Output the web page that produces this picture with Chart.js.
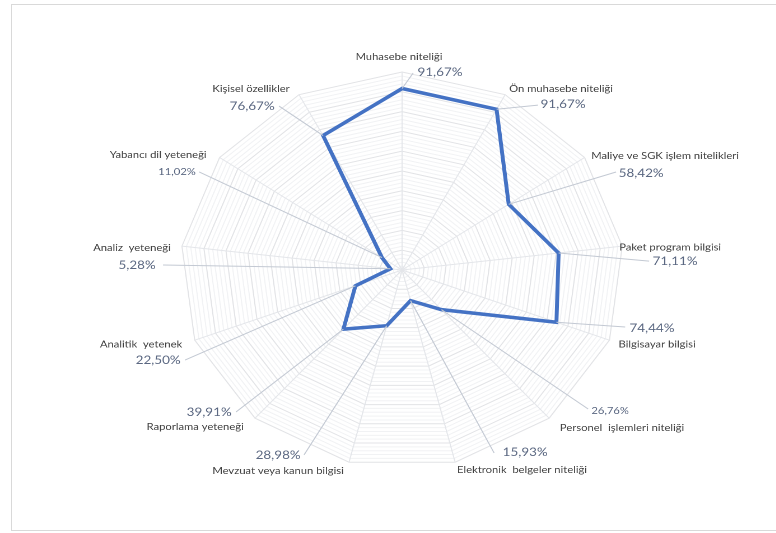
<!DOCTYPE html>
<html><head><meta charset="utf-8">
<script src="https://cdn.jsdelivr.net/npm/chart.js@4/dist/chart.umd.min.js"></script>
<style>
html,body{margin:0;padding:0;background:#fff;overflow:hidden;width:776px;height:533px;}
#frame{position:absolute;left:11px;top:4px;width:800px;height:527px;border:1px solid #d9d9d9;box-sizing:border-box;}
#wrap{position:absolute;left:0;top:0;width:700px;height:533px;transform:scaleX(1.12);transform-origin:0 0;}
canvas{display:block;}
</style></head><body>
<div id="frame"></div>
<div id="wrap"><canvas id="c" width="700" height="533" style="width:700px;height:533px"></canvas></div>
<script>
const CATEGORIES = [
  "Muhasebe niteliği",
  "Ön muhasebe niteliği",
  "Maliye ve SGK işlem nitelikleri",
  "Paket program bilgisi",
  "Bilgisayar bilgisi",
  "Personel  işlemleri niteliği",
  "Elektronik  belgeler niteliği",
  "Mevzuat veya kanun bilgisi",
  "Raporlama yeteneği",
  "Analitik  yetenek",
  "Analiz  yeteneği",
  "Yabancı dil yeteneği",
  "Kişisel özellikler"
];
const VALUES = [91.67, 91.67, 58.42, 71.11, 74.44, 26.76, 15.93, 28.98, 39.91, 22.50, 5.28, 11.02, 76.67];
const SCALE_MIN = 0;
const SCALE_MAX = 100;
const MINOR_STEP = 2;
const MAJOR_STEP = 10;

// label layout (styling): positions relative to the scale centre, in units of the scale radius
// n = category name centre, v = value text centre, e = end of leader line, vs = value font size
const LABEL_LAYOUT = [
  {n:[-0.014,-1.076], v:[0.171,-1.000], e:[0.050,-0.995], vs:12},
  {n:[0.717,-0.914],  v:[0.726,-0.838], e:[0.613,-0.833], vs:12},
  {n:[1.186,-0.576],  v:[1.078,-0.490], e:[0.965,-0.495], vs:12},
  {n:[1.209,-0.116],  v:[1.231,-0.045], e:[1.114,-0.045], vs:12},
  {n:[1.150,0.374],   v:[1.127,0.293],  e:[1.006,0.288],  vs:12},
  {n:[0.992,0.798],   v:[0.938,0.712],  e:[0.839,0.702],  vs:10},
  {n:[0.541,1.010],   v:[0.555,0.919],  e:[0.415,0.924],  vs:12},
  {n:[-0.559,1.015],  v:[-0.559,0.934], e:[-0.442,0.934], vs:12},
  {n:[-0.933,0.793],  v:[-0.870,0.717], e:[-0.749,0.717], vs:12},
  {n:[-1.177,0.374],  v:[-1.100,0.455], e:[-0.979,0.455], vs:12},
  {n:[-1.218,-0.111], v:[-1.195,-0.025],e:[-1.078,-0.025],vs:12},
  {n:[-1.100,-0.581], v:[-1.015,-0.495],e:[-0.915,-0.495],vs:10},
  {n:[-0.681,-0.914], v:[-0.676,-0.828],e:[-0.555,-0.828],vs:12}
];

function fmt(v){ return v.toFixed(2).replace('.', ',') + '%'; }

const calloutPlugin = {
  id: 'callouts',
  afterDatasetsDraw(chart) {
    const sc = chart.scales.r;
    const ctx = chart.ctx;
    const cx = sc.xCenter, cy = sc.yCenter, R = sc.drawingArea;
    ctx.save();
    for (let i = 0; i < CATEGORIES.length; i++) {
      const L = LABEL_LAYOUT[i];
      const p = sc.getPointPositionForValue(i, VALUES[i]);
      const ex = cx + L.e[0]*R, ey = cy + L.e[1]*R;
      ctx.strokeStyle = '#c3c9d3';
      ctx.lineWidth = 1;
      ctx.beginPath();
      ctx.moveTo(p.x, p.y);
      ctx.lineTo(ex, ey);
      ctx.stroke();
      ctx.textAlign = 'center';
      ctx.textBaseline = 'middle';
      ctx.fillStyle = '#404040';
      ctx.font = '10px Lato';
      ctx.fillText(CATEGORIES[i], cx + L.n[0]*R, cy + L.n[1]*R);
      ctx.fillStyle = '#5a6781';
      ctx.font = L.vs + 'px Lato';
      ctx.fillText(fmt(VALUES[i]), cx + L.v[0]*R, cy + L.v[1]*R);
    }
    ctx.restore();
  }
};

new Chart(document.getElementById('c'), {
  type: 'radar',
  data: {
    labels: CATEGORIES,
    datasets: [{
      data: VALUES,
      borderColor: '#4472C4',
      borderWidth: 3.5,
      fill: false,
      pointRadius: 0,
      pointHoverRadius: 0,
      tension: 0
    }]
  },
  options: {
    responsive: false,
    animation: false,
    devicePixelRatio: 2,
    layout: { padding: { left: 161, right: 143, top: 72, bottom: 65 } },
    plugins: { legend: { display: false }, tooltip: { enabled: false } },
    scales: {
      r: {
        min: SCALE_MIN,
        max: SCALE_MAX,
        ticks: { display: false, stepSize: MINOR_STEP },
        pointLabels: { display: false },
        angleLines: { display: true, color: '#e4e6ea', lineWidth: 1 },
        grid: {
          circular: false,
          color: (c) => (c.tick && c.tick.value % MAJOR_STEP === 0) ? '#e2e3e6' : '#f1f2f4',
          lineWidth: 1
        }
      }
    }
  },
  plugins: [calloutPlugin]
});
</script>
</body></html>
